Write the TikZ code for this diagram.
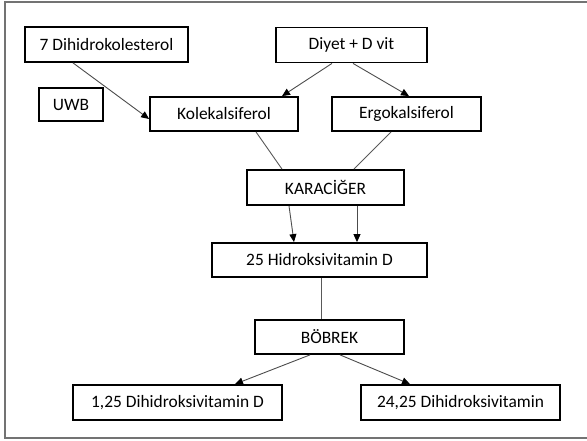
\documentclass[tikz,border=0pt]{standalone}
\usepackage{fontspec}
\setmainfont{Carlito}
\usetikzlibrary{arrows.meta}

\begin{document}
\begin{tikzpicture}[x=1pt, y=-1pt,
        main/.style = {draw, line width=1.8pt, inner sep=0pt, font=\fontsize{17.4}{20}\selectfont},
        flow/.style = {draw=black!70, line width=0.9pt, -{Triangle[length=8pt, width=7pt, color=black]}},
        link/.style = {draw=black!65, line width=0.9pt}]
                \useasboundingbox (0, 0) rectangle (587, 441);
                \draw[black!55, line width=1.5pt] (5, 2) rectangle (589, 438);

                \node[main, minimum width=163pt, minimum height=35pt] at (106.5, 44.5) (dihid) {7 Dihidrokolesterol};
                \node[main, minimum width=151pt, minimum height=35pt] at (351.5, 45) (diyet) {Diyet + D vit};
                \node[main, line width=1.1pt, minimum width=64pt, minimum height=33pt] at (71, 104.5) (uwb) {UWB};
                \node[main, minimum width=148pt, minimum height=34pt] at (224, 114) (kole) {Kolekalsiferol};
                \node[main, minimum width=149pt, minimum height=34pt] at (406.5, 114) (ergo) {Ergokalsiferol};
                \node[main, minimum width=157pt, minimum height=35pt] at (325.5, 187.5) (kara) {KARACİĞER};
                \node[main, minimum width=215pt, minimum height=34pt] at (319.5, 260) (hidro) {25 Hidroksivitamin D};
                \node[main, minimum width=149pt, minimum height=34pt] at (329.5, 337) (bob) {BÖBREK};
                \node[main, minimum width=209pt, minimum height=35pt] at (177.5, 402.5) (dih125) {1,25 Dihidroksivitamin D};
                \node[main, minimum width=199pt, minimum height=35pt] at (460.5, 402.5) (dih2425) {24,25 Dihidroksivitamin};

                \draw[flow] ([xshift=-33.5pt]dihid.south) -- ([yshift=-5pt]kole.west);
                \draw[flow] ([xshift=-19.5pt]diyet.south) -- ([xshift=58pt]kole.north);
                \draw[flow] ([xshift=1.5pt]diyet.south) -- ([xshift=2.5pt]ergo.north);

                \draw[link] ([xshift=32pt]kole.south) -- ([xshift=-43.5pt]kara.north);
                \draw[link] ([xshift=-15.5pt]ergo.south) -- ([xshift=28.5pt]kara.north);

                \draw[flow] ([xshift=-36.5pt]kara.south) -- ([xshift=-25.5pt]hidro.north);
                \draw[flow] ([xshift=31.5pt]kara.south) -- ([xshift=37.5pt]hidro.north);

                \draw[link] ([xshift=1.5pt]hidro.south) -- ([xshift=-8.5pt]bob.north);

                \draw[flow] ([xshift=-19.5pt]bob.south) -- ([xshift=57.5pt]dih125.north);
                \draw[flow] ([xshift=10.5pt]bob.south) -- ([xshift=-50.5pt]dih2425.north);
\end{tikzpicture}
\end{document}
